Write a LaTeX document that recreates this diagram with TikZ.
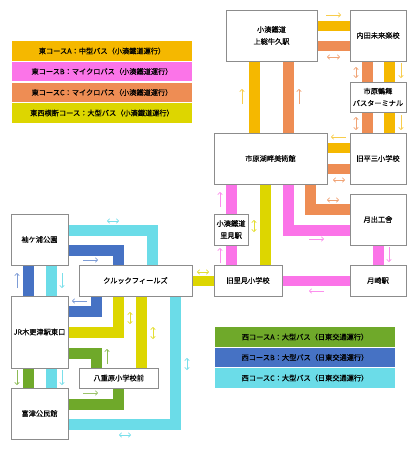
\documentclass[tikz,border=0pt]{standalone}
\usepackage{fontspec}
\setmainfont{Noto Sans CJK JP}[FakeBold=0.25]
\usetikzlibrary{arrows.meta,backgrounds}
\definecolor{cA}{HTML}{F5B800}
\definecolor{cB}{HTML}{FB74E8}
\definecolor{cC}{HTML}{EE8D54}
\definecolor{cX}{HTML}{DDD600}
\definecolor{cG}{HTML}{6FA92A}
\definecolor{cL}{HTML}{4672C4}
\definecolor{cT}{HTML}{6BDCE8}
\tikzset{
  x=1pt,y=-1pt,
  stopbox/.style={draw=black!45,line width=0.8pt,fill=white,inner sep=0pt,outer sep=0pt,align=center,
    font=\fontsize{7.2}{12}\selectfont,text=black},
  legend/.style={inner sep=0pt,outer sep=0pt,minimum width=180pt,font=\fontsize{7.2}{8}\selectfont,text=black},
  band/.style={line width=11pt,line cap=butt,line join=miter},
  flow/.style={line width=0.7pt,-{Straight Barb[length=2.2pt,width=4.6pt]}},
  flowb/.style={line width=0.7pt,{Straight Barb[length=2.2pt,width=4.6pt]}-{Straight Barb[length=2.2pt,width=4.6pt]}},
}
\begin{document}
\begin{tikzpicture}
\useasboundingbox (0,0) rectangle (418,450);
% legends
\node[legend,fill=cA,minimum height=20pt] (l1) at (102,51) {東コースA：中型バス（小湊鐵道運行）};
\node[legend,fill=cB,minimum height=19pt] (l2) at (102,71.5) {東コースB：マイクロバス（小湊鐵道運行）};
\node[legend,fill=cC,minimum height=19pt] (l3) at (102,92.5) {東コースC：マイクロバス（小湊鐵道運行）};
\node[legend,fill=cX,minimum height=20pt] (l4) at (102,113) {東西横断コース：大型バス（小湊鐵道運行）};
\node[legend,fill=cG,minimum height=20pt] (l5) at (305,337) {西コースA：大型バス（日東交通運行）};
\node[legend,fill=cL,minimum height=19pt] (l6) at (305,357.5) {西コースB：大型バス（日東交通運行）};
\node[legend,fill=cT,minimum height=20pt] (l7) at (305,378) {西コースC：大型バス（日東交通運行）};
% stops
\node[stopbox,minimum width=91pt,minimum height=51pt] (ushiku) at (271.5,35.5) {小湊鐵道\\上総牛久駅};
\node[stopbox,minimum width=56pt,minimum height=51pt] (uchida) at (378,35.5) {内田未来楽校};
\node[stopbox,minimum width=56pt,minimum height=30pt] (tsurumai) at (378,97) {市原鶴舞\\バスターミナル};
\node[stopbox,minimum width=113pt,minimum height=51pt] (bijutsu) at (270.5,158.5) {市原湖畔美術館};
\node[stopbox,minimum width=56pt,minimum height=51pt] (hirasan) at (378,158.5) {旧平三小学校};
\node[stopbox,minimum width=56pt,minimum height=51pt] (tsukide) at (378,219.5) {月出工舎};
\node[stopbox,minimum width=56pt,minimum height=31pt] (tsukizaki) at (378,280.5) {月崎駅};
\node[stopbox,minimum width=68pt,minimum height=31pt] (satomi) at (248,280.5) {旧里見小学校};
\node[stopbox,minimum width=34pt,minimum height=31pt] (satomist) at (231,229.5) {小湊鐵道\\里見駅};
\node[stopbox,minimum width=57pt,minimum height=51pt] (sode) at (39.5,239.5) {袖ケ浦公園};
\node[stopbox,minimum width=113pt,minimum height=31pt] (kuruk) at (135.5,280.5) {クルックフィールズ};
\node[stopbox,minimum width=57pt,minimum height=72pt] (jr) at (39.5,332) {JR木更津駅東口};
\node[stopbox,minimum width=79.5pt,minimum height=20pt] (yaehara) at (118.75,378) {八重原小学校前};
\node[stopbox,minimum width=57pt,minimum height=51pt] (futtsu) at (39.5,413.5) {富津公民館};
\begin{pgfonlayer}{background}
% course A
\draw[band,cA,line width=10.5pt] (ushiku.east |- 0,26) -- (uchida.west |- 0,26);
\draw[band,cA] (254,0 |- bijutsu.north) -- (254,0 |- ushiku.south);
\draw[band,cA] (389.5,0 |- uchida.south) -- (389.5,0 |- tsurumai.north);
\draw[band,cA] (389.5,0 |- tsurumai.south) -- (389.5,0 |- hirasan.north);
\draw[band,cA,line width=10.5pt] (hirasan.west |- 0,148) -- (bijutsu.east |- 0,148);
% course C
\draw[band,cC,line width=10.5pt] (ushiku.east |- 0,46) -- (uchida.west |- 0,46);
\draw[band,cC] (288,0 |- bijutsu.north) -- (288,0 |- ushiku.south);
\draw[band,cC] (367,0 |- uchida.south) -- (367,0 |- tsurumai.north);
\draw[band,cC] (367,0 |- tsurumai.south) -- (367,0 |- hirasan.north);
\draw[band,cC,line width=10.5pt] (hirasan.west |- 0,169) -- (bijutsu.east |- 0,169);
\draw[band,cC] (310.5,0 |- bijutsu.south) |- (tsukide.west |- 0,209.5);
% course B
\draw[band,cB] (231.5,0 |- bijutsu.south) -- (231.5,0 |- satomist.north);
\draw[band,cB] (231.5,0 |- satomist.south) -- (231.5,0 |- satomi.north);
\draw[band,cB] (288,0 |- bijutsu.south) |- (tsukide.west |- 0,230);
\draw[band,cB] (378,0 |- tsukide.south) -- (378,0 |- tsukizaki.north);
\draw[band,cB,line width=10.5pt] (tsukizaki.west |- 0,281) -- (satomi.east |- 0,281);
% cross course
\draw[band,cX] (265.5,0 |- bijutsu.south) -- (265.5,0 |- satomi.north);
\draw[band,cX,line width=10.5pt] (kuruk.east |- 0,281) -- (satomi.west |- 0,281);
\draw[band,cX] (jr.east |- 0,332) -| (118.5,0 |- kuruk.south);
\draw[band,cX] (141.5,0 |- kuruk.south) -- (141.5,0 |- yaehara.north);
% west A
\draw[band,cG] (28.5,0 |- jr.south) -- (28.5,0 |- futtsu.north);
\draw[band,cG] (jr.east |- 0,353) -| (96,0 |- yaehara.north);
\draw[band,cG] (futtsu.east |- 0,404) -| (118.5,0 |- yaehara.south);
% west B
\draw[band,cL] (28.5,0 |- sode.south) -- (28.5,0 |- jr.north);
\draw[band,cL] (sode.east |- 0,250.5) -| (118.5,0 |- kuruk.north);
\draw[band,cL] (jr.east |- 0,311.5) -| (96,0 |- kuruk.south);
% west C
\draw[band,cT] (51,0 |- sode.south) -- (51,0 |- jr.north);
\draw[band,cT] (51,0 |- jr.south) -- (51,0 |- futtsu.north);
\draw[band,cT] (sode.east |- 0,230) -| (152.5,0 |- kuruk.north);
\draw[band,cT] (futtsu.east |- 0,424) -| (175.5,0 |- kuruk.south);
\end{pgfonlayer}
% direction markers
\draw[flow,cA!70] (326,15) -- (341,15);
\draw[flowb,cC!80] (327,57) -- (340,57);
\draw[flow,cA!70] (242,104) -- (242,89);
\draw[flow,cC!80] (299,104) -- (299,89);
\draw[flowb,cC!80] (356,67) -- (356,78);
\draw[flow,cA!70] (401,63) -- (401,78);
\draw[flowb,cC!80] (356,117) -- (356,130);
\draw[flow,cA!70] (401,115) -- (401,130);
\draw[flow,cA!70] (346,137) -- (331,137);
\draw[flowb,cC!80] (333,180) -- (345,180);
\draw[flowb,cC!80] (327,200) -- (339,200);
\draw[flow,cB!80] (309,239) -- (324,239);
\draw[flow,cB!80] (389,247) -- (389,262);
\draw[flow,cB!80] (324,291) -- (309,291);
\draw[flow,cB!80] (220,207) -- (220,192);
\draw[flow,cB!80] (220,263) -- (220,248);
\draw[flowb,cX!80] (254,220) -- (254,232);
\draw[flowb,cX!80] (197,272) -- (209,272);
\draw[flowb,cT!90] (107,221) -- (119,221);
\draw[flow,cL!70] (83,260) -- (98,260);
\draw[flow,cL!70] (17,288) -- (17,273);
\draw[flow,cT!90] (62,273) -- (62,288);
\draw[flow,cL!70] (87,301) -- (72,301);
\draw[flowb,cX!80] (130,312) -- (130,324);
\draw[flowb,cX!80] (153,327) -- (153,339);
\draw[flowb,cT!90] (187,358) -- (187,370);
\draw[flow,cG!80] (107,364) -- (107,349);
\draw[flow,cG!80] (17,370) -- (17,385);
\draw[flow,cT!90] (62,370) -- (62,385);
\draw[flow,cG!70] (83,393) -- (98,393);
\draw[flowb,cT!90] (119,435) -- (131,435);
\end{tikzpicture}
\end{document}
